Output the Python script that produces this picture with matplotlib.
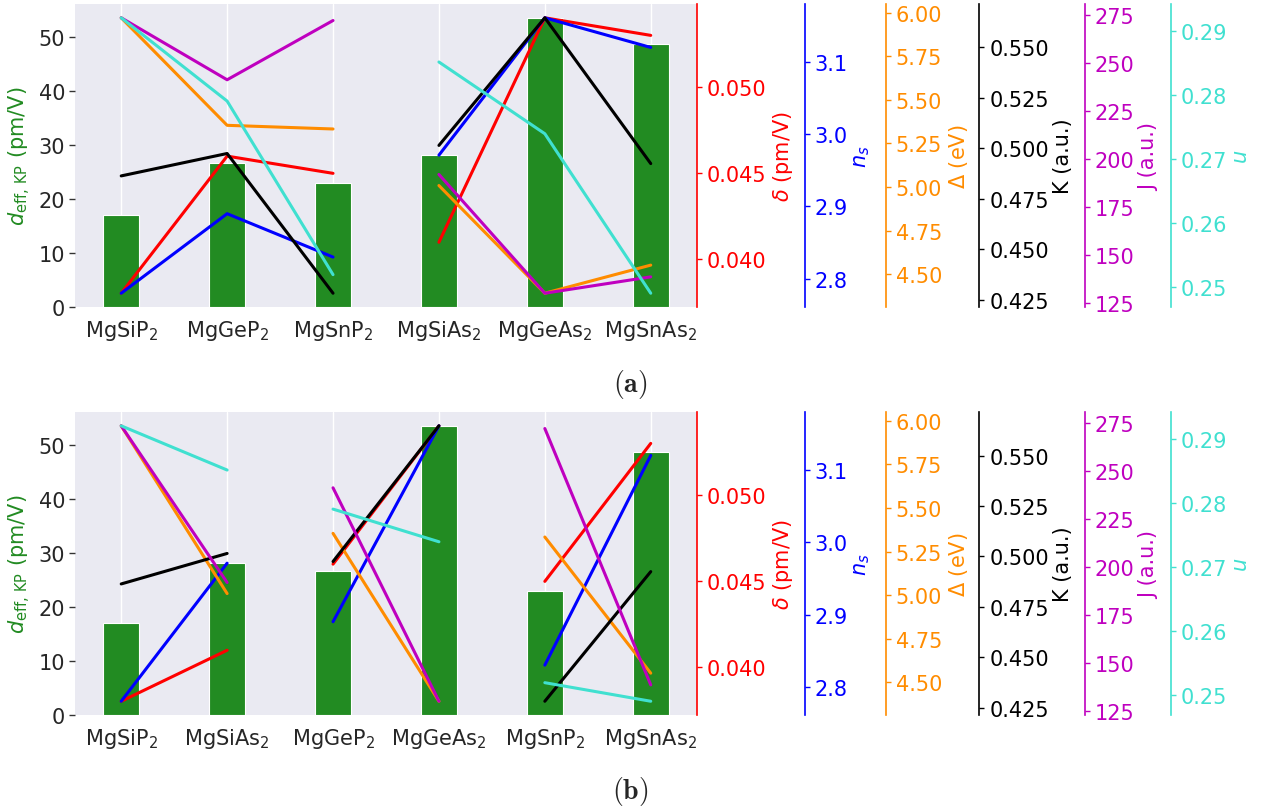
import matplotlib
matplotlib.use("Agg")
import matplotlib.pyplot as plt
from matplotlib.ticker import MultipleLocator, FormatStrFormatter
import seaborn as sns
import numpy as np

sns.set_theme(style="darkgrid")
plt.rcParams["font.family"] = ["DejaVu Sans"]

# Compounds in the two orderings used by the panels
compounds_a = ["MgSiP$_2$", "MgGeP$_2$", "MgSnP$_2$", "MgSiAs$_2$", "MgGeAs$_2$", "MgSnAs$_2$"]
order_b = [0, 3, 1, 4, 2, 5]

# Properties, listed in the order of compounds_a
d_eff = [17.1, 26.7, 22.9, 28.2, 53.4, 48.6]
delta = [0.03804, 0.04600, 0.04500, 0.04100, 0.05403, 0.05301]
n_s = [2.780, 2.890, 2.830, 2.971, 3.161, 3.120]
gap = [5.97, 5.354, 5.333, 5.009, 4.392, 4.553]
K = [0.4864, 0.4975, 0.4283, 0.5015, 0.5647, 0.4925]
J = [273.3, 241.1, 271.9, 191.9, 130.2, 138.7]
u = [0.2921, 0.2791, 0.2520, 0.2852, 0.2740, 0.2491]

# (values, colour, label, tick step, tick format)
series = [
    (delta, "#ff0000", r"$\delta$ (pm/V)", 0.005, "%.3f"),
    (n_s, "#0000ff", r"$n_s$", 0.1, "%.1f"),
    (gap, "#ff8c00", r"$\Delta$ (eV)", 0.25, "%.2f"),
    (K, "#000000", "K (a.u.)", 0.025, "%.3f"),
    (J, "#bf00bf", "J (a.u.)", 25, "%d"),
    (u, "#40e0d0", r"$u$", 0.01, "%.2f"),
]
spine_pos = [1.0, 1.173, 1.304, 1.454, 1.624, 1.762]

FS = 15
fig = plt.figure(figsize=(12.68, 8.12), dpi=100)


def panel(rect, order, groups, tag, tag_y):
    ax = fig.add_axes(rect)
    x = np.arange(6)
    labels = [compounds_a[i] for i in order]
    bars = [d_eff[i] for i in order]
    ax.bar(x, bars, width=0.34, color="forestgreen", edgecolor="white", linewidth=0.8, zorder=2)
    ax.set_xticks(x)
    ax.set_xticklabels(labels, fontsize=FS)
    ax.yaxis.grid(False)
    ax.xaxis.grid(True, color="white", linewidth=1)
    ax.tick_params(axis="y", left=True, length=4, width=1, color="#333333", labelsize=FS, pad=3)
    ax.tick_params(axis="x", bottom=False, labelsize=FS, pad=2)
    ax.yaxis.set_major_locator(MultipleLocator(10))
    ax.set_ylabel(r"$d_{\mathrm{eff,\,KP}}$ (pm/V)", color="forestgreen", fontsize=FS)
    for s in ax.spines.values():
        s.set_visible(False)

    for (vals, col, lab, step, fmt), pos in zip(series, spine_pos):
        tw = ax.twinx()
        tw.grid(False)
        tw.patch.set_visible(False)
        for nm in ["left", "top", "bottom"]:
            tw.spines[nm].set_visible(False)
        tw.spines["right"].set_visible(True)
        tw.spines["right"].set_position(("axes", pos))
        tw.spines["right"].set_color(col)
        tw.spines["right"].set_linewidth(1.2)
        ordered = [vals[i] for i in order]
        for g in groups:
            tw.plot([x[i] for i in g], [ordered[i] for i in g], color=col, linewidth=2.2)
        tw.yaxis.set_major_locator(MultipleLocator(step))
        tw.yaxis.set_major_formatter(FormatStrFormatter(fmt))
        tw.tick_params(axis="y", right=True, colors=col, length=3.5, width=1, labelsize=FS, pad=3.5)
        tw.set_ylabel(lab, color=col, fontsize=FS, labelpad=3)
    ax.set_xlim(-0.437, 5.437)
    fig.text(0.497, tag_y, r"$\mathbf{(" + tag + ")}$", ha="center", va="center",
             fontsize=20, math_fontfamily="cm")
    return ax


panel([0.0591, 0.6207, 0.4906, 0.3731], list(range(6)), [[0, 1, 2], [3, 4, 5]], "a", 1 - 385 / 812)
panel([0.0591, 0.1182, 0.4906, 0.3731], order_b, [[0, 1], [2, 3], [4, 5]], "b", 1 - 792 / 812)

fig.savefig("out.png", dpi=100)
